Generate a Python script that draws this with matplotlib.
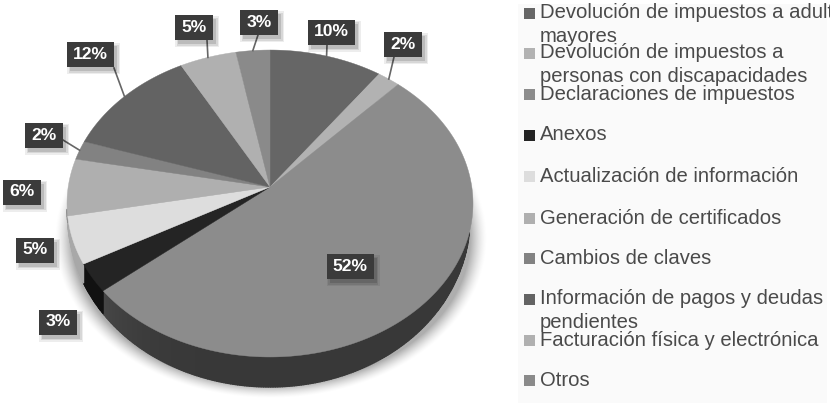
#!/usr/bin/env python3
"""
Pie chart with a tilted 3D look, grey version.
"""

import numpy as np
import matplotlib
matplotlib.use('Agg')
import matplotlib.pyplot as plt
from matplotlib.patches import Polygon, Rectangle
from matplotlib.collections import PolyCollection

plt.rcParams['font.family'] = ['Liberation Sans', 'DejaVu Sans']

# Data
categories = [
    'Devolución de impuestos a adultos\nmayores',
    'Devolución de impuestos a\npersonas con discapacidades',
    'Declaraciones de impuestos',
    'Anexos',
    'Actualización de información',
    'Generación de certificados',
    'Cambios de claves',
    'Información de pagos y deudas\npendientes',
    'Facturación física y electrónica',
    'Otros',
]
values = [10, 2, 52, 3, 5, 6, 2, 12, 5, 3]
colors = ['#666666', '#b2b2b2', '#8c8c8c', '#242424', '#dddddd',
          '#afafaf', '#828282', '#636363', '#b0b0b0', '#8a8a8a']
wall_colors = ['#333333', '#555555', '#383838', '#111111', '#a8a8a8',
               '#909090', '#666666', '#444444', '#888888', '#666666']

# Label box centres, and where the leader leaves the box (None = no leader)
label_pos = [(331, 32), (403, 44.5), (350, 266.5), (58, 322), (35, 250),
             (22, 192), (44, 135), (90.5, 54.5), (194, 27.5), (259, 22.5)]
leader_from = [(327, 45), (394, 57), None, None, None,
               None, (63, 140), (114, 68), (207, 40), (258, 35)]

# Pie geometry in pixels
cx, cy = 270, 187
A, B, k = 151.7, 201.8, 0.1075
depth = 30


def rim(theta):
    # circle seen in perspective, apex stays at (cx, cy)
    s, c = np.sin(theta), np.cos(theta)
    d = 1 + k * c
    return cx + B * s / d, cy - A * c / d


def wall_depth(theta):
    # wall tapers out toward the sides of the pie
    c = np.cos(theta)
    v0 = np.where(np.sin(theta) > 0, 0.30, 0.15)
    return depth * np.sqrt(np.clip((-c - v0) / (1 - v0), 0, 1))


fig = plt.figure(figsize=(8.30, 4.03), dpi=100)
ax = fig.add_axes([0, 0, 1, 1])

# Soft shadow under the pie
yy, xx = np.mgrid[0:403, 0:520]
rad = np.sqrt(((xx - 270.0) / 216.0) ** 2 + ((yy - 238.0) / 160.0) ** 2)
shade = np.clip((1.0 - rad) / 0.08, 0, 1) ** 1.5 * 0.32
ax.imshow(shade, extent=(0, 520, 403, 0), cmap='gray_r', vmin=0, vmax=1,
          aspect='auto', zorder=1, interpolation='bilinear')
ax.set_xlim(0, 830)
ax.set_ylim(403, 0)
ax.axis('off')

# Legend panel
ax.add_patch(Rectangle((518, 4), 309, 399, fc='#fafafa', ec='none', zorder=1))

# Side wall, one thin quad per step
edges = np.cumsum([0] + values) / 100 * 2 * np.pi
for i in range(len(values)):
    th = np.linspace(edges[i], edges[i + 1], max(values[i] * 6, 4))
    x, y = rim(th)
    h = wall_depth(th)
    quads = []
    face = []
    base = np.array(matplotlib.colors.to_rgb(wall_colors[i]))
    for j in range(len(th) - 1):
        if h[j] <= 0 and h[j + 1] <= 0:
            continue
        quads.append([(x[j], y[j]), (x[j + 1], y[j + 1]),
                      (x[j + 1], y[j + 1] + h[j + 1]), (x[j], y[j] + h[j])])
        # the big slice gets lighter toward its left end
        f = 1.0
        if i == 2 and np.sin(th[j]) < 0:
            f += 0.75 * abs(np.sin(th[j])) ** 4
        face.append(np.clip(base * f, 0, 1))
    if quads:
        ax.add_collection(PolyCollection(quads, facecolors=face, edgecolors=face,
                                         linewidths=1.0, zorder=2))

# Top surface
for i in range(len(values)):
    th = np.linspace(edges[i], edges[i + 1], max(values[i] * 8, 6))
    x, y = rim(th)
    pts = [(cx, cy)] + list(zip(x, y))
    ax.add_patch(Polygon(pts, closed=True, fc=colors[i], ec=colors[i], lw=0.3, zorder=3))

# Labels with leader lines
for i in range(len(values)):
    bx, by = label_pos[i]
    txt = f'{values[i]}%'
    w = 47 if values[i] >= 10 else 38
    h = 25
    if leader_from[i] is not None:
        mid = (edges[i] + edges[i + 1]) / 2
        mx, my = rim(mid)
        ax.plot([leader_from[i][0], mx], [leader_from[i][1], my],
                color='#666666', lw=1.2, zorder=4)
    # blurry drop shadow
    for grow, alpha in [(3, 0.07), (1.5, 0.09), (0, 0.13)]:
        ax.add_patch(Rectangle((bx - w / 2 + 3 - grow, by - h / 2 + 4 - grow),
                               w + 2 * grow, h + 2 * grow, fc='#000000',
                               alpha=alpha, ec='none', zorder=5))
    ax.add_patch(Rectangle((bx - w / 2, by - h / 2), w, h, fc='#3b3b3b', ec='none', zorder=6))
    ax.text(bx, by, txt, color='white', fontsize=12.6, fontweight='bold',
            ha='center', va='center', zorder=7)

# Legend
legend_y = [13, 53, 94, 135, 176, 218, 258, 299, 340, 380]
clip = Rectangle((518, 0), 309, 403, transform=ax.transData)
for i, name in enumerate(categories):
    ax.add_patch(Rectangle((524, legend_y[i] - 5.5), 11, 11, fc=colors[i], ec='none', zorder=3))
    lines = name.split('\n')
    ax.text(540, legend_y[i], lines[0], color='#4a4a4a', fontsize=14.55, va='center',
            zorder=4, clip_path=clip, clip_on=True)
    if len(lines) > 1:
        ax.text(540, legend_y[i] + 23, lines[1], color='#4a4a4a', fontsize=14.55, va='center',
                zorder=4, clip_path=clip, clip_on=True)

fig.savefig('out.png', dpi=100)
